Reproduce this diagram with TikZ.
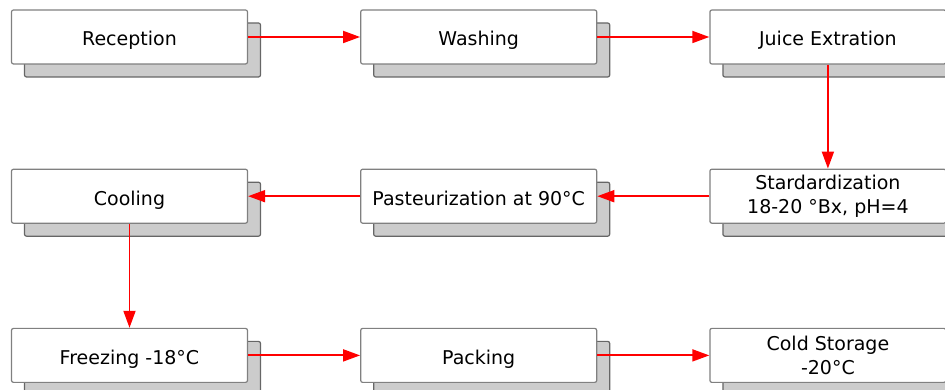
\documentclass[tikz,border=0pt]{standalone}
\usepackage{fontspec}
\setmainfont{DejaVu Sans}
\usetikzlibrary{positioning, arrows.meta, shadows}

\definecolor{boxline}{HTML}{808080}
\definecolor{shadowfill}{HTML}{CCCCCC}
\definecolor{shadowline}{HTML}{666666}
\definecolor{flowred}{HTML}{FF0000}

\begin{document}
\begin{tikzpicture}[x=1pt, y=1pt, node distance=104pt and 112pt]
    \tikzstyle{stage}=[rectangle, draw=boxline, line width=1.2pt, fill=white, rounded corners=2pt, minimum width=236pt, minimum height=54pt, inner sep=0, align=center, font=\fontsize{19}{24}\selectfont, copy shadow={shadow xshift=13pt, shadow yshift=-13pt, fill=shadowfill, draw=shadowline}]
    \tikzstyle{stage one}=[stage, text height=18pt, text depth=0pt]
    \tikzstyle{flow}=[-{Triangle[length=17pt, width=12pt]}, draw=flowred, fill=flowred, line width=1.8pt]
    \tikzstyle{flow back}=[{Triangle[length=17pt, width=12pt]}-, draw=flowred, fill=flowred, line width=1.8pt]

    \useasboundingbox (0,0) rectangle (945,390);

    \node[stage one] (reception) at (129.5,353) {Reception};
    \node[stage one, right=of reception] (washing) {Washing};
    \node[stage one, right=of washing] (juice) {Juice Extration};
    \node[stage, below=of juice] (standard) {Stardardization\\18-20 °Bx, pH=4};
    \node[stage one, left=of standard] (pasteur) {Pasteurization at 90°C};
    \node[stage one, left=of pasteur] (cooling) {Cooling};
    \node[stage one, below=of cooling] (freezing) {Freezing -18°C};
    \node[stage one, right=of freezing] (packing) {Packing};
    \node[stage, right=of packing] (storage) {Cold Storage\\-20°C};

    \begin{scope}[flow]
        \draw[flow] (reception.east) -- (washing.west);
        \draw[flow] (washing.east) -- (juice.west);
        \draw[flow] (juice.south) -- (standard.north);
        \draw[flow] (standard.west) -- (pasteur.east);
        \draw[flow] (pasteur.west) -- (cooling.east);
        \draw[flow back] (freezing.north) -- (cooling.south);
        \draw[flow] (freezing.east) -- (packing.west);
        \draw[flow] (packing.east) -- (storage.west);
    \end{scope}
\end{tikzpicture}
\end{document}
